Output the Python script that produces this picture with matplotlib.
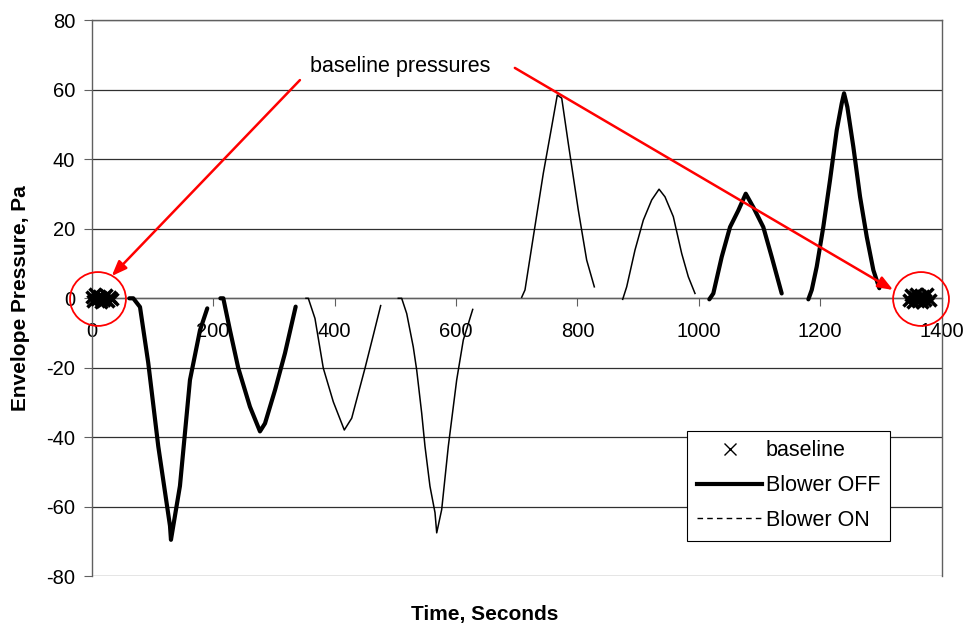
import numpy as np
import matplotlib
matplotlib.use('Agg')
from matplotlib import pyplot as plt
from matplotlib.lines import Line2D
from matplotlib.patches import Ellipse

plt.rcParams['font.family'] = ['Liberation Sans', 'DejaVu Sans']
plt.rcParams['axes.unicode_minus'] = False

# baseline pressure readings before and after the test (seconds, Pa)
base_t = [0, 3, 6, 9, 12, 15, 18, 21, 24, 27, 30, 33,
          1346, 1349, 1352, 1355, 1358, 1361, 1364, 1367, 1370, 1373, 1376, 1380]
base_p = [0.4, -0.8, 1.1, -0.3, 0.7, -1.2, 0.2, -0.6, 1.0, -0.9, 0.5, -0.2,
          -0.5, 0.9, -1.1, 0.3, 1.2, -0.7, 0.6, -1.0, 0.8, -0.4, 1.1, -0.6]

# blower OFF segments
off_t = [
    [62, 68.5, 79.6, 93.2, 109.7, 129, 130.6, 145.4, 161.9, 178.4, 190.4],
    [212, 216.8, 227.8, 241.5, 260.7, 277.2, 285.5, 302, 318.4, 336],
    [1017.3, 1023.9, 1037.7, 1051.4, 1065.1, 1077.3, 1089.8, 1106.2, 1120.1, 1136.5],
    [1180.4, 1186, 1194.2, 1205.1, 1216.1, 1227.2, 1235.4, 1239.2, 1244.6, 1254.5,
     1265.6, 1276.6, 1287.5, 1297.3],
]
off_p = [
    [0, 0, -2.5, -18.6, -42.6, -65.5, -69.5, -54, -23.5, -9.2, -2.9],
    [0, 0, -9.2, -20.1, -31.2, -38.3, -36, -26.4, -15.8, -2.4],
    [-0.3, 1.4, 11.9, 20.5, 25.3, 30.1, 26.2, 20.5, 11.9, 1.4],
    [-0.3, 2.4, 9.1, 20.6, 34, 48.4, 56.1, 59, 55.1, 43.6, 29.2, 17.7, 8.1, 2.9],
]

# blower ON segments
on_t = [
    [353, 356.8, 367.8, 381.5, 398, 416.1, 428.3, 450.2, 463.9, 476],
    [505, 510.6, 518.9, 529.7, 535.3, 543.6, 549, 557.2, 565.5, 568.3, 576.5, 587.4,
     601.2, 612.1, 627.6],
    [708.3, 713.7, 727.4, 743.9, 757.7, 766.9, 774.2, 785, 801.5, 815.3, 827.9],
    [874.6, 881.2, 894.9, 908.6, 922.4, 934.5, 944.3, 958, 971.8, 982.7, 993.7],
]
on_p = [
    [0, 0, -5.8, -20.1, -29.8, -37.9, -34.5, -20.1, -10.6, -2.1],
    [0, 0, -4.4, -14, -20.6, -33.1, -42.6, -54.1, -61.7, -67.5, -60.8, -42.6,
     -23.5, -12, -3.2],
    [0.3, 2.4, 17.7, 36, 49.4, 58.5, 57.6, 44.6, 25.4, 11, 3.3],
    [-0.3, 3.3, 13.9, 22.5, 28.3, 31.4, 29.2, 23.5, 12.9, 6.2, 1.4],
]

fig = plt.figure(figsize=(9.69, 6.33), dpi=100)
ax = fig.add_axes([0.0946, 0.0896, 0.8772, 0.8783])

for t, p in zip(off_t, off_p):
    ax.plot(t, p, color='black', lw=3.0, solid_capstyle='round', zorder=3)
for t, p in zip(on_t, on_p):
    ax.plot(t, p, color='black', lw=1.1, zorder=3)
ax.plot(base_t, base_p, 'x', color='black', ms=8, mew=2.5, zorder=4, clip_on=False)

ax.set_xlim(0, 1400)
ax.set_ylim(-80, 80)
ax.set_xticks(np.arange(0, 1401, 200))
ax.set_yticks(np.arange(-80, 81, 20))
ax.yaxis.grid(True, color='#303030', lw=0.9)
ax.set_axisbelow(True)

# x axis crosses at zero like the spreadsheet original
ax.spines['bottom'].set_position(('data', 0))
for side in ['bottom', 'left', 'right', 'top']:
    ax.spines[side].set_color('#606060')
    ax.spines[side].set_linewidth(1.0)
ax.tick_params(axis='x', direction='out', length=6, pad=11, labelsize=14.5, colors='#606060',
               labelcolor='black')
ax.tick_params(axis='y', direction='out', length=6, pad=6, labelsize=14.5, colors='#606060',
               labelcolor='black')

ax.set_ylabel('Envelope Pressure, Pa', fontsize=15, fontweight='bold')
ax.yaxis.set_label_coords(-0.072, 0.5)
fig.text(0.5, 0.015, 'Time, Seconds', fontsize=15, fontweight='bold', ha='center', va='bottom')

# annotation for the baseline readings
ax.text(508, 66.8, 'baseline pressures', fontsize=15.5, ha='center', va='center')
arrow = dict(arrowstyle='-|>,head_length=0.9,head_width=0.35', color='red', lw=1.8,
             shrinkA=0, shrinkB=0)
ax.annotate('', xy=(33, 6.4), xytext=(343, 62.8), arrowprops=arrow, annotation_clip=False)
ax.annotate('', xy=(1320, 2.4), xytext=(697, 66.3), arrowprops=arrow, annotation_clip=False)
for cx in [10.4, 1366]:
    ax.add_patch(Ellipse((cx, -0.2), 92, 15.5, fill=False, edgecolor='red', lw=1.3,
                         clip_on=False, zorder=5))

handles = [
    Line2D([], [], marker='x', ls='none', color='black', ms=8, mew=1.0),
    Line2D([], [], color='black', lw=3.0),
    Line2D([], [], color='black', lw=1.0, dashes=(4, 3)),
]
leg = ax.legend(handles, ['baseline', 'Blower OFF', 'Blower ON'], loc='upper left',
                bbox_to_anchor=(0.7004, 0.262), borderaxespad=0, fontsize=15.5,
                frameon=True, fancybox=False, edgecolor='black', framealpha=1,
                handlelength=3.05, handletextpad=0.15, labelspacing=0.64, borderpad=0.45)
leg.get_frame().set_linewidth(0.8)

fig.savefig('out.png', dpi=100)
